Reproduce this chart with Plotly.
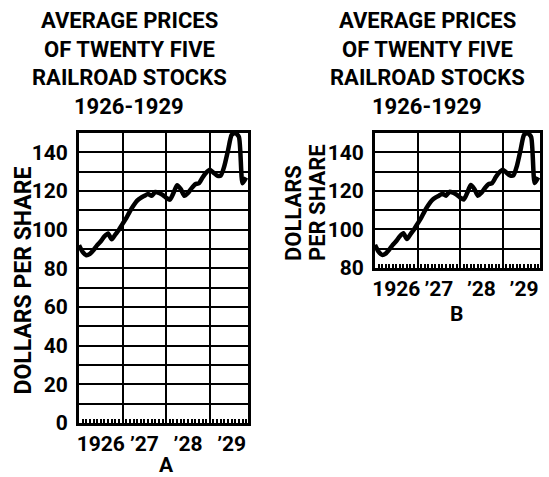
import plotly.graph_objects as go

# Monthly average price of 25 railroad stocks, month 0 = January 1926
months = list(range(47))
prices = [
    92.0, 88.5, 86.8, 87.5, 89.5, 92.0, 94.0, 96.5, 98.0, 95.0, 97.5, 100.0,   # 1926
    103.0, 106.0, 109.5, 112.5, 115.0, 116.5, 117.5, 118.5, 117.5, 119.5, 119.0, 118.0,  # 1927
    116.5, 115.5, 119.0, 123.0, 121.0, 117.5, 119.0, 121.5, 123.5, 124.0, 127.0, 129.5,  # 1928
    131.0, 129.5, 128.0, 128.0, 133.0, 141.0, 149.0, 150.0, 148.0, 124.0, 127.0,        # 1929
]

year_starts = [12, 24, 36]
year_label_pos = [6, 18, 30, 42]
year_labels = ["1926", "\u201927", "\u201928", "\u201929"]

title_lines = ["AVERAGE PRICES", "OF TWENTY FIVE", "RAILROAD STOCKS", "1926-1929"]

W, H = 549, 477
FONT = "Roboto, Liberation Sans, sans-serif"
X_RANGE = [0, 46.5]


def px(x):
    return x / W


def py(y):
    return 1 - y / H


fig = go.Figure()
for xa, ya in (("x", "y"), ("x2", "y2")):
    fig.add_trace(go.Scatter(
        x=months, y=prices, mode="lines",
        line=dict(color="black", width=4.5, shape="spline", smoothing=0.6),
        xaxis=xa, yaxis=ya, showlegend=False, hoverinfo="skip",
    ))
# empty traces so the grid-only overlay axes get drawn
fig.add_trace(go.Scatter(x=[], y=[], xaxis="x3", yaxis="y", showlegend=False))
fig.add_trace(go.Scatter(x=[], y=[], xaxis="x4", yaxis="y2", showlegend=False))

frame = dict(showline=True, mirror=True, linecolor="black", linewidth=3,
             zeroline=False, automargin=False)


def label_axis(domain, anchor):
    return dict(
        domain=domain, anchor=anchor, range=X_RANGE, **frame,
        tickmode="array", tickvals=year_label_pos, ticktext=year_labels,
        ticks="", showgrid=False, ticklabelstandoff=0, tickangle=0,
        tickfont=dict(family=FONT, size=21, color="black", weight="bold"),
        minor=dict(tickvals=months[1:], ticks="inside", ticklen=4,
                   tickwidth=1.5, tickcolor="black", showgrid=False),
    )


def grid_axis(overlay, anchor):
    return dict(
        overlaying=overlay, anchor=anchor, range=X_RANGE, automargin=False,
        tickmode="array", tickvals=year_starts, showticklabels=False,
        ticks="inside", ticklen=7, tickwidth=1.5, tickcolor="black",
        showgrid=True, gridcolor="black", gridwidth=2, showline=False, zeroline=False,
    )


def value_axis(domain, anchor, lo, hi):
    vals = list(range(lo, hi + 1, 10))
    text = [str(v) if (v % 20 == 0 and v < hi) else "" for v in vals]
    return dict(
        domain=domain, anchor=anchor, range=[lo, hi], **frame,
        tickmode="array", tickvals=vals, ticktext=text,
        ticks="", showgrid=True, gridcolor="black", gridwidth=2,
        ticklabelstandoff=4,
        tickfont=dict(family=FONT, size=21, color="black", weight="bold"),
    )


fig.update_layout(
    width=W, height=H,
    margin=dict(l=0, r=0, t=0, b=0, autoexpand=False),
    paper_bgcolor="white", plot_bgcolor="white",
    xaxis=label_axis([px(79), px(248)], "y"),
    yaxis=value_axis([py(423), py(133)], "x", 0, 150),
    xaxis2=label_axis([px(375), px(540)], "y2"),
    yaxis2=value_axis([py(268), py(133)], "x2", 80, 150),
    xaxis3=grid_axis("x", "y"),
    xaxis4=grid_axis("x2", "y2"),
)

annotations = []
bold = dict(family=FONT, color="black", weight="bold")
line_centres = [20.5, 49.0, 77.5, 106.5]
for cx in (129, 427):
    for text, cy in zip(title_lines, line_centres):
        annotations.append(dict(
            text=text, x=px(cx), y=py(cy), xref="paper", yref="paper",
            xanchor="center", yanchor="middle", showarrow=False,
            font=dict(size=22, **bold),
        ))

# y-axis titles
annotations.append(dict(
    text="DOLLARS PER SHARE", x=px(22.5), y=py(281), xref="paper", yref="paper",
    xanchor="center", yanchor="middle", textangle=-90, showarrow=False,
    font=dict(size=23, **bold),
))
for text, cx in (("DOLLARS", 293), ("PER SHARE", 317.5)):
    annotations.append(dict(
        text=text, x=px(cx), y=py(263), xref="paper", yref="paper",
        xanchor="center", yanchor="bottom", textangle=-90, showarrow=False,
        font=dict(size=22, **bold),
    ))

# panel letters
for text, cx, cy in (("A", 166, 465), ("B", 456, 314)):
    annotations.append(dict(
        text=text, x=px(cx), y=py(cy), xref="paper", yref="paper",
        xanchor="center", yanchor="middle", showarrow=False,
        font=dict(size=21, **bold),
    ))

fig.update_layout(annotations=annotations)
fig.write_html("out.html")
